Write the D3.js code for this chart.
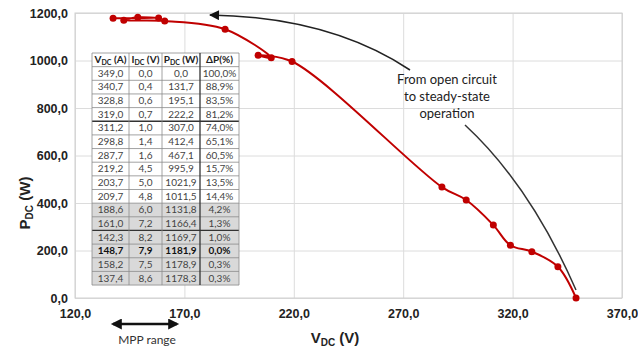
<!DOCTYPE html>
<html>
<head>
<meta charset="utf-8">
<script src="https://cdn.jsdelivr.net/npm/d3@7"></script>
<style>
  body { margin: 0; background: #fff; }
  svg { display: block; }
</style>
</head>
<body>
<script>
const vdc = [349.0, 340.7, 328.8, 319.0, 311.2, 298.8, 287.7, 219.2, 203.7, 209.7, 188.6, 161.0, 142.3, 148.7, 158.2, 137.4];
const idc = [0.0, 0.4, 0.6, 0.7, 1.0, 1.4, 1.6, 4.5, 5.0, 4.8, 6.0, 7.2, 8.2, 7.9, 7.5, 8.6];
const pdc = [0.0, 131.7, 195.1, 222.2, 307.0, 412.4, 467.1, 995.9, 1021.9, 1011.5, 1131.8, 1166.4, 1169.7, 1181.9, 1178.9, 1178.3];
const dP = ["100,0%", "88,9%", "83,5%", "81,2%", "74,0%", "65,1%", "60,5%", "15,7%", "13,5%", "14,4%", "4,2%", "1,3%", "1,0%", "0,0%", "0,3%", "0,3%"];
const xTicks = [120, 170, 220, 270, 320, 370];
const yTicks = [0, 200, 400, 600, 800, 1000, 1200];

const width = 638, height = 352;
const fmt = v => d3.format(".1f")(v).replace(".", ",");

const svg = d3.select("body").append("svg")
  .attr("width", width).attr("height", height);

const x = d3.scaleLinear().domain([120, 370]).range([75, 622]);
const y = d3.scaleLinear().domain([0, 1200]).range([298, 13]);

// grid
svg.append("g")
  .attr("transform", "translate(0,298)")
  .call(d3.axisBottom(x).tickValues(xTicks).tickSize(-285).tickFormat(""))
  .call(g => g.select(".domain").remove())
  .call(g => g.selectAll("line").attr("stroke", "#dcdcdc"));
svg.append("g")
  .attr("transform", "translate(75,0)")
  .call(d3.axisLeft(y).tickValues(yTicks).tickSize(-547).tickFormat(""))
  .call(g => g.select(".domain").remove())
  .call(g => g.selectAll("line").attr("stroke", "#dcdcdc"));

svg.append("rect")
  .attr("x", 75).attr("y", 13).attr("width", 547).attr("height", 285)
  .attr("fill", "none").attr("stroke", "#d0d0d0");

// tick labels
svg.append("g")
  .attr("transform", "translate(0,306)")
  .call(d3.axisBottom(x).tickValues(xTicks).tickSize(0).tickFormat(fmt))
  .call(g => g.select(".domain").remove())
  .call(g => g.selectAll("text")
    .attr("font-family", "'Liberation Sans', Arial, sans-serif")
    .attr("font-size", 12.5).attr("font-weight", "bold").attr("fill", "#222"));
svg.append("g")
  .attr("transform", "translate(68,0)")
  .call(d3.axisLeft(y).tickValues(yTicks).tickSize(0).tickPadding(0).tickFormat(fmt))
  .call(g => g.select(".domain").remove())
  .call(g => g.selectAll("text")
    .attr("font-family", "'Liberation Sans', Arial, sans-serif")
    .attr("font-size", 12.5).attr("font-weight", "bold").attr("fill", "#222"));

// axis titles
const xt = svg.append("text")
  .attr("x", 335).attr("y", 343).attr("text-anchor", "middle")
  .attr("font-family", "'Liberation Sans', Arial, sans-serif")
  .attr("font-size", 15).attr("font-weight", "bold").attr("fill", "#222");
xt.append("tspan").text("V");
xt.append("tspan").attr("font-size", 10).attr("dy", 3).text("DC");
xt.append("tspan").attr("dy", -3).text(" (V)");

const yt = svg.append("text")
  .attr("transform", "translate(30,203) rotate(-90)").attr("text-anchor", "middle")
  .attr("font-family", "'Liberation Sans', Arial, sans-serif")
  .attr("font-size", 15).attr("font-weight", "bold").attr("fill", "#222");
yt.append("tspan").text("P");
yt.append("tspan").attr("font-size", 10).attr("dy", 3).text("DC");
yt.append("tspan").attr("dy", -3).text(" (W)");

// data line
const pts = vdc.map((v, i) => [v, pdc[i]]);
const red = "#c00000";
svg.append("path")
  .datum(pts)
  .attr("fill", "none").attr("stroke", red).attr("stroke-width", 2)
  .attr("d", d3.line().x(d => x(d[0])).y(d => y(d[1])).curve(d3.curveCatmullRom.alpha(0.5)));
svg.append("g").selectAll("circle")
  .data(pts).join("circle")
  .attr("cx", d => x(d[0])).attr("cy", d => y(d[1])).attr("r", 3.5)
  .attr("fill", red);

// table
const tx = 92, ty = 53, rh = 13.65;
const colW = [37, 33, 38, 39];
const colX = [tx, tx + 37, tx + 70, tx + 108, tx + 147];
const tableFont = "Lato, 'Noto Sans', sans-serif";
const tbl = svg.append("g").attr("font-family", tableFont).attr("font-size", 10).attr("fill", "#333");
const rows = vdc.map((v, i) => [fmt(v), fmt(idc[i]), fmt(pdc[i]), dP[i]]);

tbl.append("rect").attr("x", tx).attr("y", ty).attr("width", 147).attr("height", rh * 17).attr("fill", "#fff");
tbl.append("rect").attr("x", tx).attr("y", ty + rh * 11).attr("width", 147).attr("height", rh * 6).attr("fill", "#d9d9d9");

// header
const heads = [["V", "DC", " (A)"], ["I", "DC", " (V)"], ["P", "DC", " (W)"], ["ΔP(%)", "", ""]];
heads.forEach((h, j) => {
  const t = tbl.append("text")
    .attr("x", colX[j] + colW[j] / 2).attr("y", ty + rh - 3.5)
    .attr("text-anchor", "middle").attr("font-weight", "bold").attr("fill", "#222");
  t.append("tspan").text(h[0]);
  if (h[1]) {
    t.append("tspan").attr("font-size", 7).attr("dy", 2).text(h[1]);
    t.append("tspan").attr("dy", -2).text(h[2]);
  }
});
rows.forEach((r, i) => {
  r.forEach((c, j) => {
    tbl.append("text")
      .attr("x", colX[j] + colW[j] / 2).attr("y", ty + rh * (i + 2) - 3.5)
      .attr("text-anchor", "middle")
      .attr("font-weight", i === 13 ? "bold" : "normal")
      .attr("fill", i === 13 ? "#111" : "#444")
      .text(c);
  });
});

// table lines
for (let i = 0; i <= 17; i++) {
  const thick = i === 5 || i === 13;
  tbl.append("line")
    .attr("x1", tx).attr("x2", tx + 147)
    .attr("y1", ty + rh * i).attr("y2", ty + rh * i)
    .attr("stroke", thick ? "#333" : "#8a8a8a").attr("stroke-width", thick ? 1.3 : 0.8);
}
colX.forEach((cx, j) => {
  const thick = j === 3;
  tbl.append("line")
    .attr("x1", cx).attr("x2", cx)
    .attr("y1", ty).attr("y2", ty + rh * 17)
    .attr("stroke", thick ? "#333" : "#8a8a8a").attr("stroke-width", thick ? 1.3 : 0.8);
});

// annotation arrows
const defs = svg.append("defs");
defs.append("marker").attr("id", "ah")
  .attr("viewBox", "0 0 10 10").attr("refX", 8).attr("refY", 5)
  .attr("markerWidth", 13).attr("markerHeight", 11).attr("orient", "auto-start-reverse")
  .attr("markerUnits", "userSpaceOnUse")
  .append("path").attr("d", "M0,0 L10,5 L0,10 z").attr("fill", "#111");
defs.append("marker").attr("id", "ah2")
  .attr("viewBox", "0 0 10 10").attr("refX", 9).attr("refY", 5)
  .attr("markerWidth", 14).attr("markerHeight", 10).attr("orient", "auto")
  .attr("markerUnits", "userSpaceOnUse")
  .append("path").attr("d", "M0,0 L10,5 L0,10 z").attr("fill", "#111");

svg.append("path")
  .attr("d", "M410,70 Q330,17 210,15")
  .attr("fill", "none").attr("stroke", "#222").attr("stroke-width", 1.5)
  .attr("marker-end", "url(#ah2)");
svg.append("path")
  .attr("d", "M465,125 Q530,185 576,290")
  .attr("fill", "none").attr("stroke", "#333").attr("stroke-width", 1.5);

const ann = svg.append("text")
  .attr("font-family", tableFont).attr("font-size", 13).attr("fill", "#222")
  .attr("text-anchor", "middle");
["From open circuit", "to steady-state", "operation"].forEach((s, i) => {
  ann.append("tspan").attr("x", 447).attr("y", 84 + i * 17).text(s);
});

// MPP range
svg.append("line")
  .attr("x1", 113).attr("x2", 177).attr("y1", 324).attr("y2", 324)
  .attr("stroke", "#111").attr("stroke-width", 2.5)
  .attr("marker-start", "url(#ah)").attr("marker-end", "url(#ah)");
svg.append("text")
  .attr("x", 147).attr("y", 344).attr("text-anchor", "middle")
  .attr("font-family", tableFont).attr("font-size", 12).attr("fill", "#333")
  .text("MPP range");
</script>
</body>
</html>
